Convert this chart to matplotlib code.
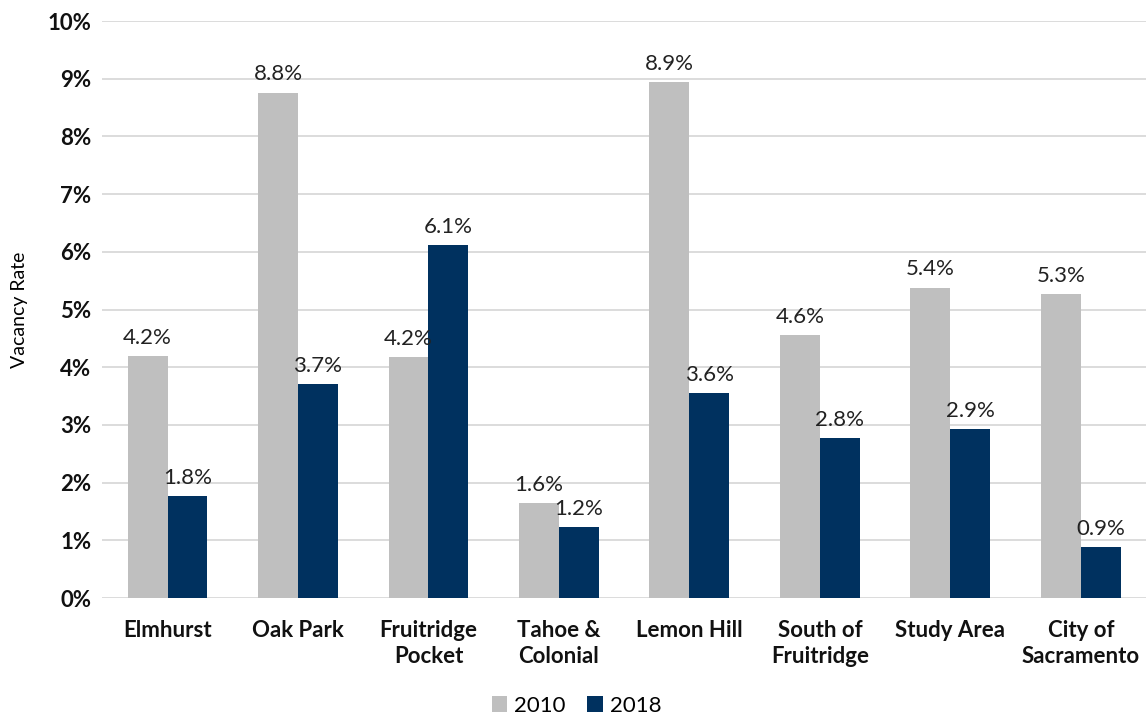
import matplotlib
matplotlib.use("Agg")
import matplotlib.pyplot as plt
import numpy as np
from matplotlib.ticker import FuncFormatter

categories = ["Elmhurst", "Oak Park", "Fruitridge\nPocket", "Tahoe &\nColonial",
              "Lemon Hill", "South of\nFruitridge", "Study Area", "City of\nSacramento"]
vals_2010 = [4.19, 8.76, 4.17, 1.64, 8.94, 4.56, 5.38, 5.27]
vals_2018 = [1.77, 3.71, 6.12, 1.23, 3.55, 2.77, 2.93, 0.88]
labels_2010 = ["4.2%", "8.8%", "4.2%", "1.6%", "8.9%", "4.6%", "5.4%", "5.3%"]
labels_2018 = ["1.8%", "3.7%", "6.1%", "1.2%", "3.6%", "2.8%", "2.9%", "0.9%"]
series_names = ["2010", "2018"]

plt.rcParams['font.family'] = ['Lato', 'DejaVu Sans']

fig = plt.figure(figsize=(11.46, 7.15), dpi=100)
ax = fig.add_axes([0.0893, 0.1636, 0.9107, 0.807])

x = np.arange(len(categories))
w = 0.306
c1, c2 = "#BFBFBF", "#00315F"
b1 = ax.bar(x - w/2, vals_2010, w, color=c1, label=series_names[0], zorder=3)
b2 = ax.bar(x + w/2, vals_2018, w, color=c2, label=series_names[1], zorder=3)

for bars, labs in ((b1, labels_2010), (b2, labels_2018)):
    for r, t in zip(bars, labs):
        ax.annotate(t, (r.get_x() + r.get_width()/2, r.get_height()),
                    xytext=(0, 6), textcoords="offset points",
                    ha="center", va="bottom", fontsize=16, color="#222222")

ax.set_xlim(-0.5, len(categories) - 0.5)
ax.set_ylim(0, 10)
ax.set_yticks(np.arange(0, 11, 1))
ax.yaxis.set_major_formatter(FuncFormatter(lambda v, p: f"{int(v)}%"))
ax.set_xticks(x)
ax.set_xticklabels(categories, fontsize=16, fontweight="bold", linespacing=1.3)
for lab in ax.get_yticklabels():
    lab.set_fontsize(16)
    lab.set_fontweight("bold")
ax.tick_params(axis="both", length=0, pad=8, colors="#111111")
ax.tick_params(axis="x", pad=16)
ax.yaxis.grid(True, color="#D9D9D9", linewidth=1.3, zorder=0)
ax.set_axisbelow(True)
for s in ax.spines.values():
    s.set_visible(False)
ax.set_ylabel("Vacancy Rate", fontsize=14, labelpad=14)

fig.legend(handles=[b1, b2], labels=series_names, loc="lower center",
           bbox_to_anchor=(0.503, -0.029), ncol=2, frameon=False, fontsize=16,
           handlelength=0.7, handleheight=0.7, handletextpad=0.3, columnspacing=1.0)

fig.savefig("out.png", dpi=100)
